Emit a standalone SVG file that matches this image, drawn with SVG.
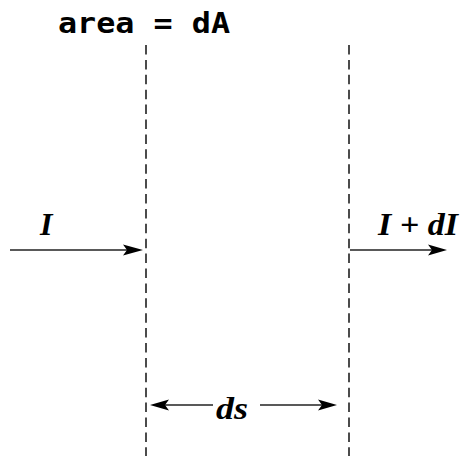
<svg xmlns="http://www.w3.org/2000/svg" width="462" height="460" viewBox="0 0 462 460">
<style>
.dash{stroke:#111;stroke-width:1.5;stroke-dasharray:9.5 5.4;fill:none}
.ln{stroke:#222;stroke-width:1.5;fill:none}
.head{fill:#000}
.math{font-family:"Liberation Serif",serif;font-weight:bold;font-style:italic;fill:#000}
.mono{font-family:"DejaVu Sans Mono","Liberation Mono",monospace;font-weight:bold;fill:#000}
</style>
<rect width="462" height="460" fill="#fff"/>
<g id="title"><text class="mono" x="58" y="33" font-size="24" transform="translate(0,33) scale(1,1.2) translate(0,-33)" textLength="172" lengthAdjust="spacingAndGlyphs">area = dA</text></g>
<g id="planes">
<line class="dash" x1="146" y1="45" x2="146" y2="456"/>
<line class="dash" x1="349" y1="45" x2="349" y2="456"/>
</g>
<g id="connectors">
<line class="ln" x1="10" y1="250" x2="130" y2="250"/>
<polygon class="head" points="143,250 123,244.5 127,250 123,255.5"/>
<line class="ln" x1="350" y1="250" x2="435" y2="250"/>
<polygon class="head" points="447,250 428,244.5 432,250 428,255.5"/>
<line class="ln" x1="160" y1="405" x2="213" y2="405"/>
<polygon class="head" points="150,405 169,399.5 165,405 169,410.5"/>
<line class="ln" x1="260" y1="405" x2="325" y2="405"/>
<polygon class="head" points="337,405 318,399.5 322,405 318,410.5"/>
</g>
<g id="label-I"><text class="math" x="40" y="235" font-size="32">I</text></g>
<g id="label-IdI"><text class="math" x="378" y="235" font-size="32" textLength="80" lengthAdjust="spacingAndGlyphs">I + dI</text></g>
<g id="label-ds"><text class="math" x="216" y="419" font-size="32" textLength="32" lengthAdjust="spacingAndGlyphs">ds</text></g>
</svg>
